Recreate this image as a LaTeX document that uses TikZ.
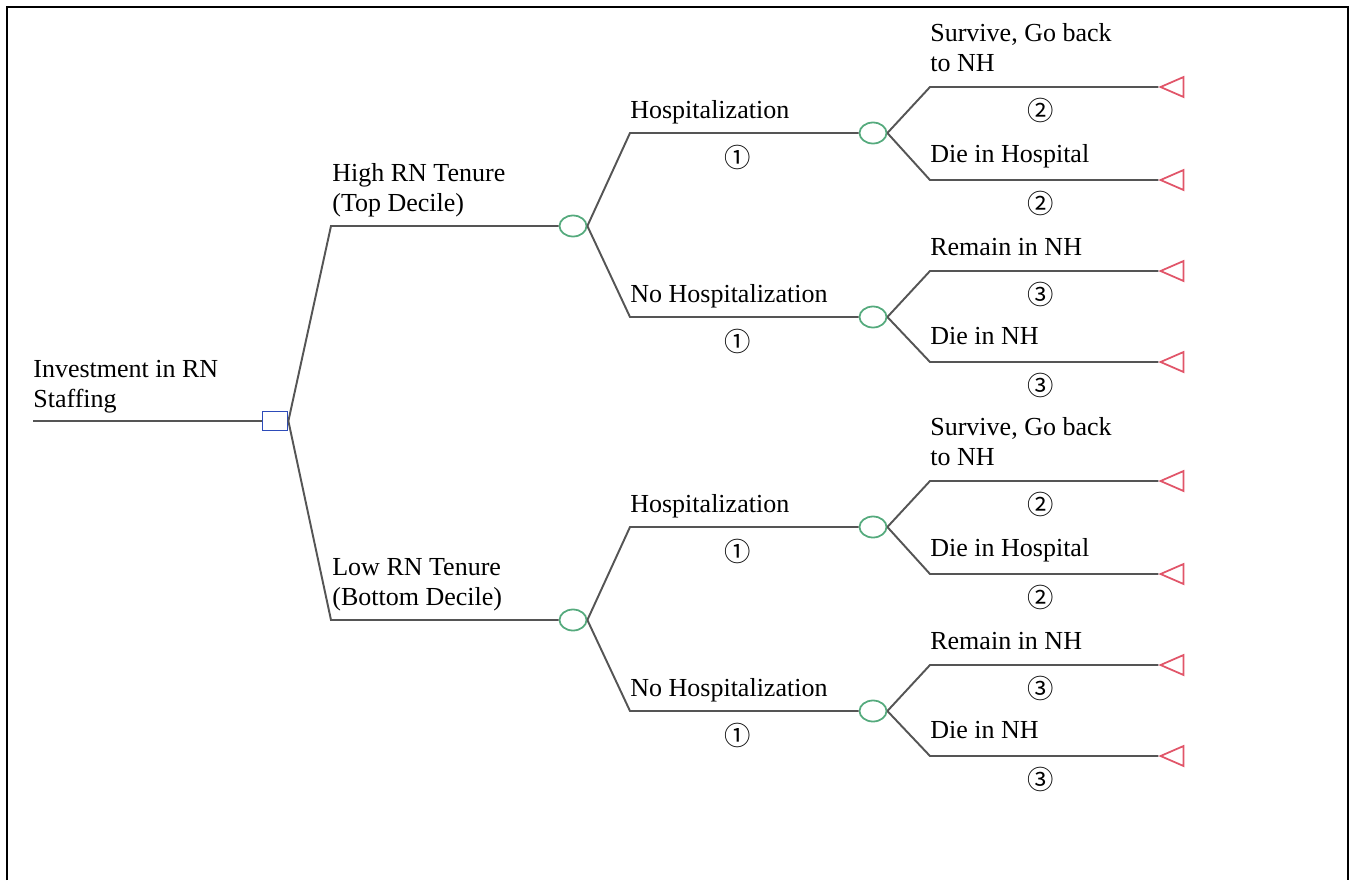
\documentclass[tikz,border=0pt]{standalone}
\usepackage{fontspec}
\setmainfont{Liberation Serif}
\newfontfamily\circfont{Noto Sans CJK SC}
\usepackage{tikz}
\usetikzlibrary{shapes.geometric, positioning}
\definecolor{linegray}{RGB}{85,85,85}
\definecolor{decblue}{RGB}{45,75,185}
\definecolor{chgreen}{RGB}{85,170,125}
\definecolor{termred}{RGB}{225,85,105}

\begin{document}
\begin{tikzpicture}[x=0.02cm, y=-0.02cm,
    branch/.style={draw=linegray, line width=1.1pt},
    decision/.style={rectangle, draw=decblue, line width=1pt, minimum width=0.5cm, minimum height=0.38cm, inner sep=0},
    chance/.style={ellipse, draw=chgreen, line width=1pt, minimum width=0.54cm, minimum height=0.42cm, inner sep=0},
    terminal/.style={isosceles triangle, shape border rotate=180, isosceles triangle stretches, draw=termred, line width=1pt, minimum width=0.4cm, minimum height=0.46cm, inner sep=0},
    lbl/.style={anchor=base west, inner sep=0, align=left, font=\fontsize{14.8}{16.6}\selectfont},
    num/.style={inner sep=0, font=\circfont\fontsize{15}{15}\selectfont}
]
\useasboundingbox (0,0) rectangle (1357,880);
% frame
\draw[line width=1.2pt] (7,880) -- (7,7) -- (1348,7) -- (1348,880);

% decision
\coordinate (start) at (33,421);
\node[decision] (inv) at (275,421) {};
\draw[branch] (start) -- (inv);
\node[lbl] (invlbl) at (33,407) {Investment in RN\\Staffing};

% two halves of the tree
\foreach \o/\tl [count=\k] in {0/{High RN Tenure\\(Top Decile)}, 394/{Low RN Tenure\\(Bottom Decile)}} {
  \coordinate (tb\k) at (331,226+\o);
  \node[chance] (tc\k) at (573,226+\o) {};
  \draw[branch] (inv.east) -- (tb\k) -- (tc\k);
  \node[lbl] (tl\k) at (332,211+\o) {\tl};
  % hospital branches
  \foreach \hy/\hl/\ya/\yb/\la/\lb/\n [count=\j] in {133/Hospitalization/87/180/{Survive, Go back\\to NH}/{Die in Hospital}/②, 317/No Hospitalization/271/362/{Remain in NH}/{Die in NH}/③} {
    \coordinate (hb\k\j) at (630,\hy+\o);
    \node[chance] (hc\k\j) at (873,\hy+\o) {};
    \draw[branch] (tc\k.east) -- (hb\k\j) -- (hc\k\j);
    \node[lbl] (hl\k\j) at ([shift={(0,-15)}]hb\k\j) {\hl};
    \node[num] (hn\k\j) at (738,\hy+24+\o) {①};
    % outcomes
    \coordinate (ea\k\j) at (930,\ya+\o);
    \coordinate (eb\k\j) at (930,\yb+\o);
    \node[terminal] (xa\k\j) at (1177,\ya+\o) {};
    \node[terminal] (xb\k\j) at (1177,\yb+\o) {};
    \draw[branch] (hc\k\j.east) -- (ea\k\j) -- (xa\k\j);
    \draw[branch] (hc\k\j.east) -- (eb\k\j) -- (xb\k\j);
    \node[lbl] (la\k\j) at ([shift={(0,-16)}]ea\k\j) {\la};
    \node[lbl] (lb\k\j) at ([shift={(0,-18)}]eb\k\j) {\lb};
    \node[num] (na\k\j) at (1041,\ya+23+\o) {\n};
    \node[num] (nb\k\j) at (1041,\yb+23+\o) {\n};
  }
}
\end{tikzpicture}
\end{document}
